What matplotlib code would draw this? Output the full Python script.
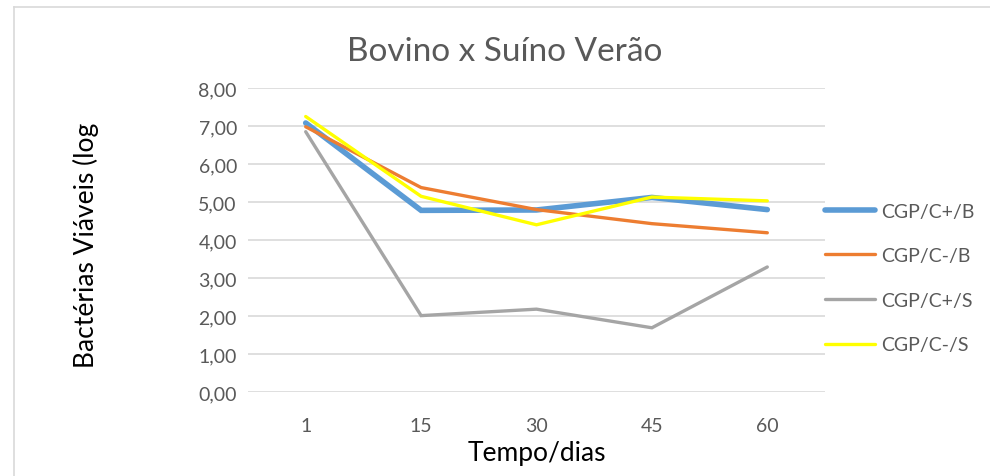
import matplotlib
matplotlib.use("Agg")
import matplotlib.pyplot as plt
from matplotlib.lines import Line2D

# data
days = ["1", "15", "30", "45", "60"]
cgp_cpos_b = [7.08, 4.78, 4.79, 5.12, 4.80]
cgp_cneg_b = [6.98, 5.38, 4.80, 4.43, 4.19]
cgp_cpos_s = [6.85, 2.01, 2.18, 1.69, 3.29]
cgp_cneg_s = [7.25, 5.15, 4.40, 5.13, 5.03]
labels = ["CGP/C+/B", "CGP/C-/B", "CGP/C+/S", "CGP/C-/S"]
colors = ["#5B9BD5", "#ED7D31", "#A5A5A5", "#FFFF00"]
widths = [4.0, 2.4, 2.4, 2.4]

plt.rcParams["font.family"] = ["Lato", "DejaVu Sans"]

fig = plt.figure(figsize=(9.9, 4.77), dpi=100)
ax = fig.add_axes([248 / 990, 1 - 393 / 477, 577 / 990, 304 / 477])

x = list(range(len(days)))
series = [cgp_cpos_b, cgp_cneg_b, cgp_cpos_s, cgp_cneg_s]
for vals, lab, col, lw in zip(series, labels, colors, widths):
    ax.plot(x, vals, color=col, lw=lw, label=lab, solid_capstyle="round",
            solid_joinstyle="miter")

ax.set_xlim(-0.5, len(days) - 0.5)
ax.set_ylim(0, 8)
ax.set_yticks(range(0, 9))
ax.set_yticklabels([f"{v:.2f}".replace(".", ",") for v in range(0, 9)])
ax.set_xticks(x)
ax.set_xticklabels(days)
ax.grid(axis="y", color="#D9D9D9", lw=1.2)
ax.set_axisbelow(True)
for s in ax.spines.values():
    s.set_visible(False)
ax.tick_params(length=0, labelsize=14, colors="#595959", pad=8)
ax.tick_params(axis="x", pad=18)

ax.set_xlabel("Tempo/dias", fontsize=19, color="black", labelpad=4)
fig.text(86 / 990, 1 - 245 / 477, "Bactérias Viáveis (log", rotation=90,
         fontsize=19, ha="center", va="center")
fig.text(505 / 990, 1 - 52 / 477, "Bovino x Suíno Verão", fontsize=24,
         color="#595959", ha="center", va="center")

# chart frame (partly cut off, as in the reference)
fig.add_artist(Line2D([14 / 990, 14 / 990], [0, 1 - 8 / 477],
                      transform=fig.transFigure, color="#D9D9D9", lw=1.2))
fig.add_artist(Line2D([14 / 990, 1], [1 - 8 / 477, 1 - 8 / 477],
                      transform=fig.transFigure, color="#D9D9D9", lw=1.2))

fig.legend(loc="center left", bbox_to_anchor=(807 / 990, 1 - 279 / 477),
           frameon=False, fontsize=14, handlelength=2.6,
           labelspacing=1.42, handletextpad=0.3, labelcolor="#595959")

fig.savefig("out.png", dpi=100)
